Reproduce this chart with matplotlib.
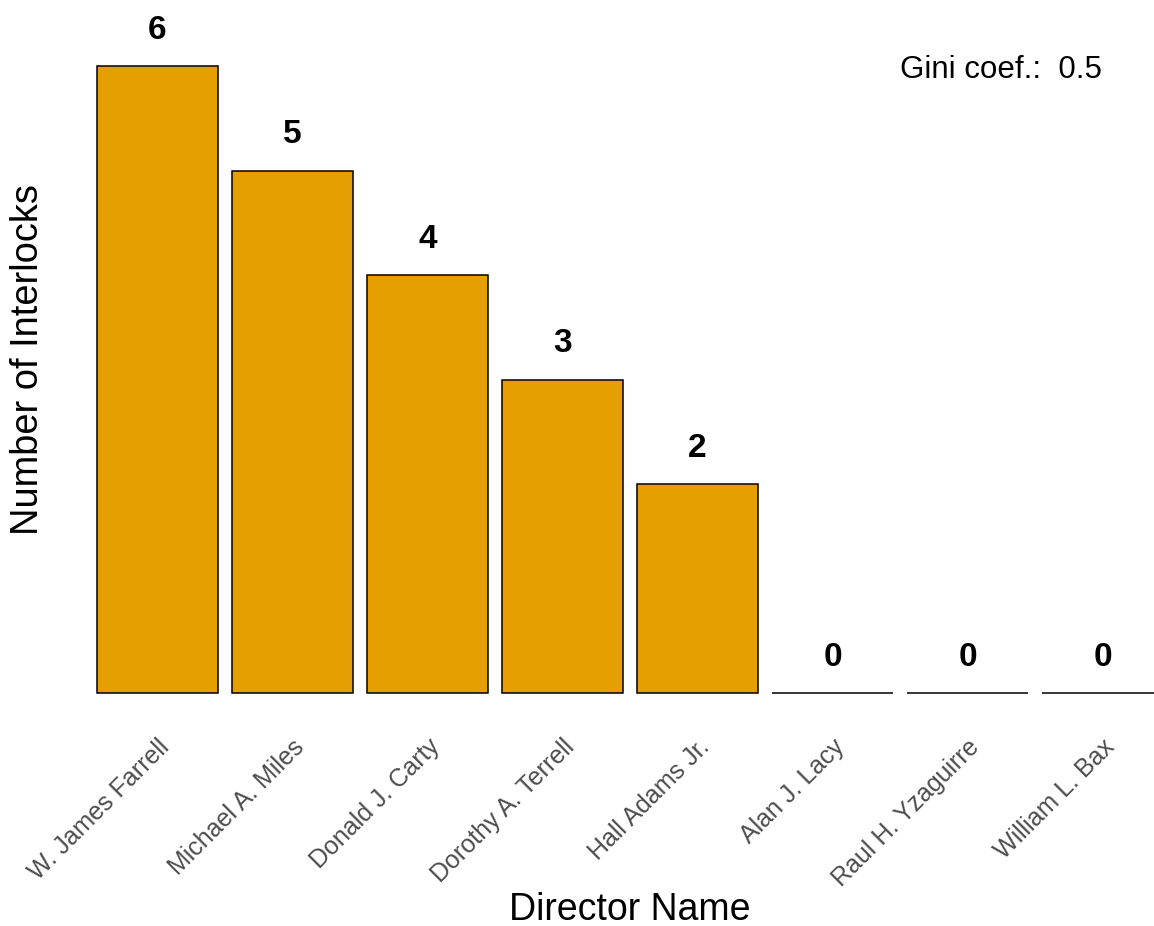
import matplotlib.pyplot as plt

plt.rcParams['font.family'] = ['Liberation Sans', 'DejaVu Sans']

directors = ['W. James Farrell', 'Michael A. Miles', 'Donald J. Carty',
             'Dorothy A. Terrell', 'Hall Adams Jr.', 'Alan J. Lacy',
             'Raul H. Yzaguirre', 'William L. Bax']
interlocks = [6, 5, 4, 3, 2, 0, 0, 0]
gini = 0.5

W, H = 1154, 926
fig = plt.figure(figsize=(W / 100, H / 100), dpi=100)

# axes run a little past the right edge, like the original output
left_px, base_px = 76.5, 693
ax = fig.add_axes([left_px / W, (H - base_px) / H, 1107 / W, base_px / H])

xs = list(range(len(directors)))
bars = ax.bar(xs, interlocks, width=0.9, color='#E69F00', edgecolor='black', linewidth=1.1)
for b in bars:
    b.set_clip_on(False)   # keep the zero-height bars fully visible
ax.set_xlim(-0.6, 7.6)
ax.set_ylim(0, base_px / 104.5)

for x, v in zip(xs, interlocks):
    ax.annotate(str(v), (x, v), xytext=(0, 19.5), textcoords='offset points',
                ha='center', va='baseline', fontsize=24, fontweight='bold')

for s in ax.spines.values():
    s.set_visible(False)
ax.set_yticks([])
ax.set_xticks(xs)
ax.set_xticklabels(directors, rotation=45, ha='right', va='top',
                   rotation_mode='anchor', fontsize=18, color='#4D4D4D')
ax.tick_params(axis='x', length=0, pad=30)

fig.text(28 / W, 1 - 360 / H, 'Number of Interlocks', rotation=90,
         ha='center', va='center', fontsize=27.4)
fig.text(630 / W, 1 - 910 / H, 'Director Name', ha='center', va='center', fontsize=27)
fig.text(900 / W, 1 - 78 / H, f'Gini coef.:  {gini}', ha='left', va='baseline', fontsize=22.5)

fig.savefig('out.png', dpi=100)
